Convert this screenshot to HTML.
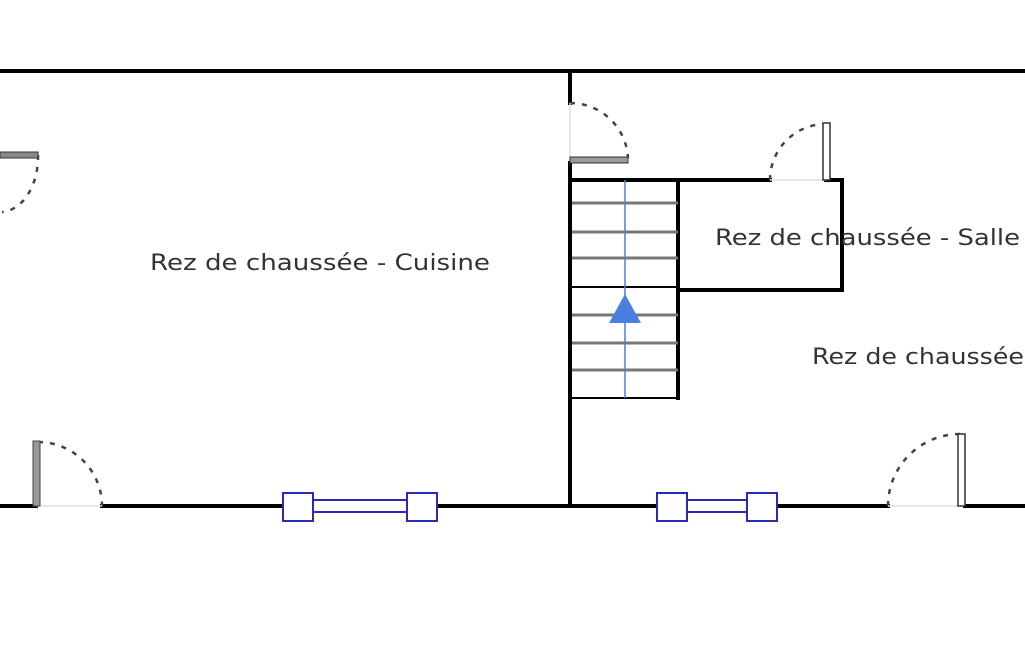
<!DOCTYPE html>
<html><head><meta charset="utf-8"><style>
html,body{margin:0;padding:0;background:#fff;width:1025px;height:650px;overflow:hidden}
text{font-family:"DejaVu Sans","Liberation Sans",sans-serif;font-size:22px;fill:#333}
</style></head><body>
<svg width="1025" height="650" viewBox="0 0 1025 650" xmlns="http://www.w3.org/2000/svg">
<g stroke="#000" stroke-width="4" fill="none" stroke-linecap="square">
<line x1="0" y1="71" x2="1025" y2="71"/>
<line x1="570" y1="71" x2="570" y2="103"/>
<line x1="570" y1="163" x2="570" y2="506"/>
<line x1="0" y1="506" x2="36" y2="506"/>
<line x1="102" y1="506" x2="283" y2="506"/>
<line x1="437" y1="506" x2="657" y2="506"/>
<line x1="777" y1="506" x2="888" y2="506"/>
<line x1="965" y1="506" x2="1025" y2="506"/>
<polyline points="678,180 678,398"/>
<polyline points="572,180 770,180"/>
<polyline points="826,180 842,180 842,290 678,290"/>
</g>
<g stroke="#000" stroke-width="2">
<line x1="572" y1="398" x2="678" y2="398"/>
<line x1="572" y1="287" x2="678" y2="287"/>
</g>
<g stroke="#777" stroke-width="3">
<line x1="572" y1="203" x2="678" y2="203"/>
<line x1="572" y1="232" x2="678" y2="232"/>
<line x1="572" y1="258" x2="678" y2="258"/>
<line x1="572" y1="315" x2="678" y2="315"/>
<line x1="572" y1="343" x2="678" y2="343"/>
<line x1="572" y1="370" x2="678" y2="370"/>
</g>
<line x1="625" y1="180" x2="625" y2="398" stroke="#4a7fe0" stroke-width="1.5"/>
<polygon points="625,294 609,323 641,323" fill="#4a7fe0"/>
<g stroke="#444" stroke-width="2.5" stroke-dasharray="5,7" fill="none">
<path d="M570,103 A58,58 0 0 1 628,158"/>
<path d="M770,180 A56,56 0 0 1 826,124"/>
<path d="M38,442 A64,64 0 0 1 102,506"/>
<path d="M888,506 A72,72 0 0 1 960,434"/>
<path d="M38,155 A38,55 0 0 1 2,212"/>
</g>
<g stroke="#ddd" stroke-width="1.5">
<line x1="570" y1="103" x2="570" y2="160"/>
<line x1="770" y1="180" x2="826" y2="180"/>
<line x1="36" y1="506" x2="102" y2="506"/>
<line x1="888" y1="506" x2="958" y2="506"/>
</g>
<rect x="570" y="157" width="58" height="6" fill="#999" stroke="#333" stroke-width="1"/>
<rect x="823" y="123" width="7" height="57" fill="#fff" stroke="#333" stroke-width="1.5"/>
<rect x="33" y="441" width="7" height="65" fill="#999" stroke="#444" stroke-width="1"/>
<rect x="958" y="434" width="7" height="72" fill="#fff" stroke="#333" stroke-width="1.5"/>
<rect x="0" y="152" width="38" height="6" fill="#888" stroke="#333" stroke-width="1"/>
<g stroke="#2a2ab5" stroke-width="2" fill="#fff">
<line x1="313" y1="500" x2="407" y2="500"/>
<line x1="313" y1="512" x2="407" y2="512"/>
<rect x="283" y="493" width="30" height="28"/>
<rect x="407" y="493" width="30" height="28"/>
<line x1="687" y1="500" x2="747" y2="500"/>
<line x1="687" y1="512" x2="747" y2="512"/>
<rect x="657" y="493" width="30" height="28"/>
<rect x="747" y="493" width="30" height="28"/>
</g>
<text x="150" y="270" textLength="340" lengthAdjust="spacingAndGlyphs">Rez de chaussée - Cuisine</text>
<text x="715" y="245" textLength="305" lengthAdjust="spacingAndGlyphs">Rez de chaussée - Salle</text>
<text x="812" y="364" textLength="212" lengthAdjust="spacingAndGlyphs">Rez de chaussée</text>
</svg>
</body></html>
